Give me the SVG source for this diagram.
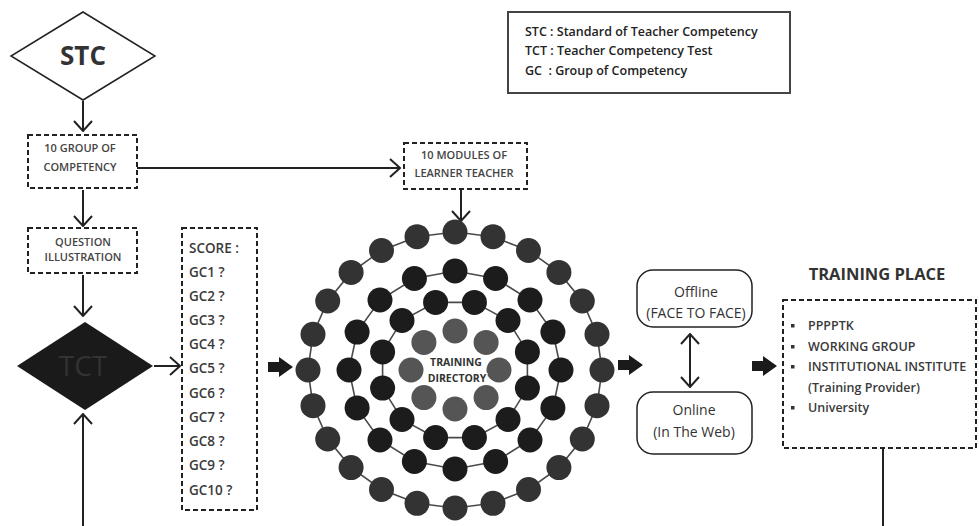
<svg xmlns="http://www.w3.org/2000/svg" width="979" height="526" viewBox="0 0 979 526">
<style>
text{font-family:"Open Sans","Liberation Sans",sans-serif;fill:#333}
.dash{fill:#fff;stroke:#222;stroke-width:2;stroke-dasharray:5,3}
.lbl{font-size:11px;font-weight:600;text-anchor:middle;fill:#444}
.sc{font-size:13.5px;font-weight:600;fill:#3a3a3a}
.lg{font-size:12.5px;font-weight:600;fill:#222}
.bl{font-size:12.5px;font-weight:600;fill:#3a3a3a}
.rb{fill:#fff;stroke:#222;stroke-width:1.5}
.rt{font-size:14px;text-anchor:middle;fill:#333}
.con{fill:none;stroke:#222;stroke-width:2}
.blk{fill:#1a1a1a}
.o{fill:#333}
.b{fill:#1c1c1c}
.g{fill:#555}
.ring{fill:none;stroke:#4a4a4a;stroke-width:1.6}
</style>
<defs>
<marker id="open" viewBox="0 0 20 20" markerWidth="20" markerHeight="20" refX="19" refY="10" orient="auto" markerUnits="userSpaceOnUse">
<path d="M9,1 L19,10 L9,19" fill="none" stroke="#222" stroke-width="2"/>
</marker>
<marker id="openS" viewBox="0 0 20 20" markerWidth="20" markerHeight="20" refX="1" refY="10" orient="auto" markerUnits="userSpaceOnUse">
<path d="M11,1 L1,10 L11,19" fill="none" stroke="#222" stroke-width="2"/>
</marker>
</defs>
<rect width="979" height="526" fill="#fff"/>

<g id="legend">
<rect x="508" y="12" width="282" height="81" fill="#fff" stroke="#444" stroke-width="2"/>
<text class="lg" x="525" y="36">STC : Standard of Teacher Competency</text>
<text class="lg" x="525" y="54.5">TCT : Teacher Competency Test</text>
<text class="lg" x="525" y="74.5">GC &#160;: Group of Competency</text>
</g>

<g id="connectors">
<line class="con" x1="83" y1="101" x2="83" y2="131" marker-end="url(#open)"/>
<line class="con" x1="83" y1="190" x2="83" y2="226" marker-end="url(#open)"/>
<line class="con" x1="83" y1="275" x2="83" y2="316" marker-end="url(#open)"/>
<line class="con" x1="154" y1="366" x2="180" y2="366" marker-end="url(#open)"/>
<line class="con" x1="137" y1="168" x2="400" y2="168" marker-end="url(#open)"/>
<line class="con" x1="461" y1="190" x2="461" y2="221" marker-end="url(#open)"/>
<line class="con" x1="690" y1="334" x2="690" y2="387" marker-start="url(#openS)" marker-end="url(#open)"/>
<line class="con" x1="83" y1="526" x2="83" y2="414" marker-end="url(#open)"/>
<line class="con" x1="883" y1="448" x2="883" y2="526"/>
<polygon class="blk" points="268,362 279,362 279,357 293,367 279,377 279,372 268,372"/>
<polygon class="blk" points="618,360 629,360 629,355 643,365 629,375 629,370 618,370"/>
<polygon class="blk" points="752,361 763,361 763,356 777,366 763,376 763,371 752,371"/>
</g>

<g id="stc">
<polygon points="83,12 155,56 83,100 11,56" fill="#fff" stroke="#222" stroke-width="1.5"/>
<text x="83" y="65" font-size="26" font-weight="700" text-anchor="middle" fill="#2a2a2a">STC</text>
</g>

<g id="group-of-competency">
<rect class="dash" x="28" y="135" width="109" height="53"/>
<text class="lbl" x="80" y="152">10 GROUP OF</text>
<text class="lbl" x="80" y="171">COMPETENCY</text>
</g>

<g id="question-illustration">
<rect class="dash" x="28" y="228" width="109" height="45"/>
<text class="lbl" x="83" y="246">QUESTION</text>
<text class="lbl" x="83" y="261">ILLUSTRATION</text>
</g>

<g id="tct">
<polygon points="85,322 153,366 85,410 17,366" fill="#1a1a1a"/>
<text x="83" y="376" font-size="28" text-anchor="middle" fill="#8c8c8c">TCT</text>
</g>

<g id="score">
<rect class="dash" x="182" y="228" width="75" height="282"/>
<text class="sc" x="189" y="252.5">SCORE :</text>
<text class="sc" x="189" y="276.5">GC1 ?</text>
<text class="sc" x="189" y="300.5">GC2 ?</text>
<text class="sc" x="189" y="324.5">GC3 ?</text>
<text class="sc" x="189" y="348.5">GC4 ?</text>
<text class="sc" x="189" y="372.5">GC5 ?</text>
<text class="sc" x="189" y="397.5">GC6 ?</text>
<text class="sc" x="189" y="421.5">GC7 ?</text>
<text class="sc" x="189" y="445.5">GC8 ?</text>
<text class="sc" x="189" y="469.5">GC9 ?</text>
<text class="sc" x="189" y="494.5">GC10 ?</text>
</g>

<g id="modules">
<rect class="dash" x="404" y="143" width="123" height="46"/>
<text class="lbl" x="464" y="159">10 MODULES OF</text>
<text class="lbl" x="464" y="177">LEARNER TEACHER</text>
</g>

<g id="training-directory">
<polygon class="ring" points="455,232 493,236.7 528.5,250.5 558.9,272.4 582.3,301 597,334.3 602,370 597,405.7 582.3,439 558.9,467.6 528.5,489.5 493,503.3 455,508 417,503.3 381.5,489.5 351.1,467.6 327.7,439 313,405.7 308,370 313,334.3 327.7,301 351.1,272.4 381.5,250.5 417,236.7"/>
<polygon class="ring" points="455,271 495.6,278.5 530,300 552.9,332.1 561,370 552.9,407.9 530,440 495.6,461.5 455,469 414.4,461.5 380,440 357.1,407.9 349,370 357.1,332.1 380,300 414.4,278.5"/>
<polygon class="ring" points="474.4,302.4 508,320.5 527.4,351.9 527.4,388.1 508,419.5 474.4,437.6 435.6,437.6 402,419.5 382.6,388.1 382.6,351.9 402,320.5 435.6,302.4"/>
<g class="o">
<circle cx="455" cy="232" r="12.5"/><circle cx="493" cy="236.7" r="12.5"/><circle cx="528.5" cy="250.5" r="12.5"/><circle cx="558.9" cy="272.4" r="12.5"/><circle cx="582.3" cy="301" r="12.5"/><circle cx="597" cy="334.3" r="12.5"/><circle cx="602" cy="370" r="12.5"/><circle cx="597" cy="405.7" r="12.5"/><circle cx="582.3" cy="439" r="12.5"/><circle cx="558.9" cy="467.6" r="12.5"/><circle cx="528.5" cy="489.5" r="12.5"/><circle cx="493" cy="503.3" r="12.5"/><circle cx="455" cy="508" r="12.5"/><circle cx="417" cy="503.3" r="12.5"/><circle cx="381.5" cy="489.5" r="12.5"/><circle cx="351.1" cy="467.6" r="12.5"/><circle cx="327.7" cy="439" r="12.5"/><circle cx="313" cy="405.7" r="12.5"/><circle cx="308" cy="370" r="12.5"/><circle cx="313" cy="334.3" r="12.5"/><circle cx="327.7" cy="301" r="12.5"/><circle cx="351.1" cy="272.4" r="12.5"/><circle cx="381.5" cy="250.5" r="12.5"/><circle cx="417" cy="236.7" r="12.5"/>
</g>
<g class="b">
<circle cx="455" cy="271" r="12.5"/><circle cx="495.6" cy="278.5" r="12.5"/><circle cx="530" cy="300" r="12.5"/><circle cx="552.9" cy="332.1" r="12.5"/><circle cx="561" cy="370" r="12.5"/><circle cx="552.9" cy="407.9" r="12.5"/><circle cx="530" cy="440" r="12.5"/><circle cx="495.6" cy="461.5" r="12.5"/><circle cx="455" cy="469" r="12.5"/><circle cx="414.4" cy="461.5" r="12.5"/><circle cx="380" cy="440" r="12.5"/><circle cx="357.1" cy="407.9" r="12.5"/><circle cx="349" cy="370" r="12.5"/><circle cx="357.1" cy="332.1" r="12.5"/><circle cx="380" cy="300" r="12.5"/><circle cx="414.4" cy="278.5" r="12.5"/>
<circle cx="474.4" cy="302.4" r="12.5"/><circle cx="508" cy="320.5" r="12.5"/><circle cx="527.4" cy="351.9" r="12.5"/><circle cx="527.4" cy="388.1" r="12.5"/><circle cx="508" cy="419.5" r="12.5"/><circle cx="474.4" cy="437.6" r="12.5"/><circle cx="435.6" cy="437.6" r="12.5"/><circle cx="402" cy="419.5" r="12.5"/><circle cx="382.6" cy="388.1" r="12.5"/><circle cx="382.6" cy="351.9" r="12.5"/><circle cx="402" cy="320.5" r="12.5"/><circle cx="435.6" cy="302.4" r="12.5"/>
</g>
<g class="g">
<circle cx="455" cy="331" r="12.5"/><circle cx="486.1" cy="342.4" r="12.5"/><circle cx="499" cy="370" r="12.5"/><circle cx="486.1" cy="397.6" r="12.5"/><circle cx="455" cy="409" r="12.5"/><circle cx="423.9" cy="397.6" r="12.5"/><circle cx="411" cy="370" r="12.5"/><circle cx="423.9" cy="342.4" r="12.5"/>
</g>
<text x="456" y="366" font-size="10.5" font-weight="700" text-anchor="middle" fill="#333" stroke="#fff" stroke-width="2" paint-order="stroke">TRAINING</text>
<text x="457" y="382" font-size="10.5" font-weight="700" text-anchor="middle" fill="#333" stroke="#fff" stroke-width="2" paint-order="stroke">DIRECTORY</text>
</g>

<g id="offline">
<rect class="rb" x="637" y="270" width="115" height="57" rx="16"/>
<text class="rt" x="696" y="297">Offline</text>
<text class="rt" x="696" y="318">(FACE TO FACE)</text>
</g>

<g id="online">
<rect class="rb" x="637" y="392" width="115" height="62" rx="16"/>
<text class="rt" x="694" y="415">Online</text>
<text class="rt" x="694" y="437">(In The Web)</text>
</g>

<g id="training-place">
<text x="877" y="280" font-size="16.5" font-weight="700" text-anchor="middle" fill="#222">TRAINING PLACE</text>
<rect class="dash" x="783" y="300" width="193" height="148"/>
<rect x="791" y="324" width="3.5" height="3.5" fill="#333"/>
<rect x="791" y="345" width="3.5" height="3.5" fill="#333"/>
<rect x="791" y="365" width="3.5" height="3.5" fill="#333"/>
<rect x="791" y="406" width="3.5" height="3.5" fill="#333"/>
<text class="bl" x="808" y="329.5">PPPPTK</text>
<text class="bl" x="808" y="350.5">WORKING GROUP</text>
<text class="bl" x="808" y="370.5">INSTITUTIONAL INSTITUTE</text>
<text class="bl" x="808" y="391.5">(Training Provider)</text>
<text class="bl" x="808" y="411.5">University</text>
</g>
</svg>
